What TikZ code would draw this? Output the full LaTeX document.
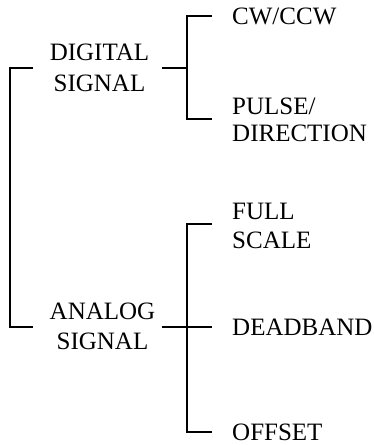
\documentclass[tikz,border=0pt]{standalone}
\usepackage{fontspec}
\setmainfont{Liberation Serif}
\begin{document}
\begin{tikzpicture}[x=1pt,y=-1pt,
  lbl/.style={inner sep=0pt,font=\fontsize{25}{30}\selectfont},
  leaf/.style={lbl,anchor=west,align=left},
  mid/.style={lbl,align=center},
  wire/.style={line width=2.2pt,line cap=butt,line join=miter}]
\useasboundingbox (0,0) rectangle (374,445);
% text nodes
\node[mid,font=\fontsize{25}{31}\selectfont] (dig) at (99.5,67.5) {DIGITAL\\SIGNAL};
\node[mid,font=\fontsize{25}{30}\selectfont] (ana) at (102.5,326.5) {ANALOG\\SIGNAL};
\node[leaf] (cw) at (232,16) {CW/CCW};
\node[leaf,font=\fontsize{25}{27}\selectfont] (pd) at (232,120) {PULSE/\\DIRECTION};
\node[leaf,font=\fontsize{25}{29}\selectfont] (fs) at (232,225.5) {FULL\\SCALE};
\node[leaf] (db) at (232,327.5) {DEADBAND};
\node[leaf] (of) at (232,432.5) {OFFSET};
% connector ends
\coordinate (l1) at (33,68);
\coordinate (l2) at (33,327);
\coordinate (d0) at (162,68);
\coordinate (ds) at (187,68);
\coordinate (d1) at (212,16);
\coordinate (d2) at (212,119);
\coordinate (a0) at (162,327);
\coordinate (a2) at (212,327);
\coordinate (a1) at (212,224);
\coordinate (a3) at (212,432);
% connectors
\draw[wire] (l1) -- ++(-23,0) |- (l2);
\draw[wire] (d0) -- (ds);
\draw[wire] (d1) -- ++(-25,0) |- (d2);
\draw[wire] (a0) -- (a2);
\draw[wire] (a1) -- ++(-25,0) |- (a3);
\end{tikzpicture}
\end{document}
